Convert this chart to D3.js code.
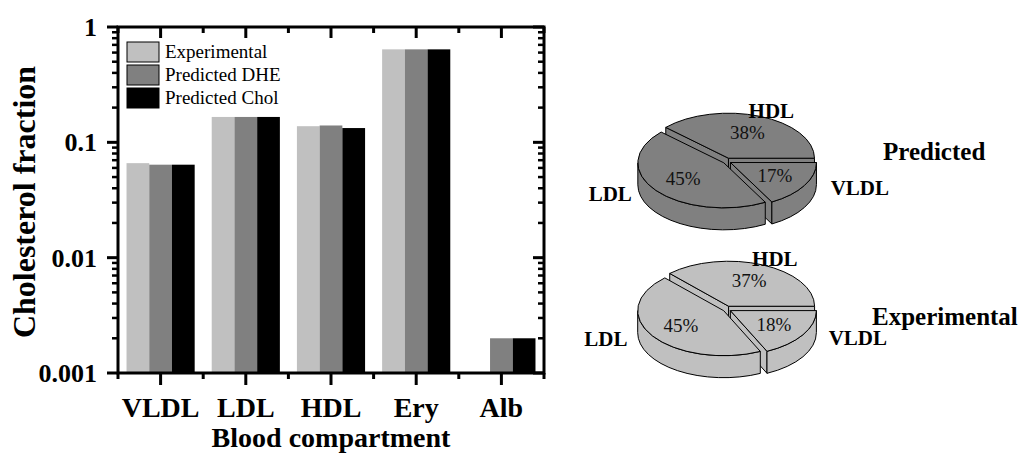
<!DOCTYPE html>
<html>
<head>
<meta charset="utf-8">
<script src="https://cdn.jsdelivr.net/npm/d3@7/dist/d3.min.js"></script>
<style>
  body { margin: 0; background: #fff; }
  text { font-family: "Liberation Serif", "Times New Roman", serif; }
</style>
</head>
<body>
<div id="container"></div>
<script>
let w = 1021;
let h = 460;

// bar chart data
let categories = ["VLDL", "LDL", "HDL", "Ery", "Alb"];
let seriesNames = ["Experimental", "Predicted DHE", "Predicted Chol"];
let experimental = [0.066, 0.166, 0.138, 0.64, null];
let predictedDHE = [0.064, 0.166, 0.14, 0.64, 0.002];
let predictedChol = [0.064, 0.166, 0.133, 0.64, 0.002];
let seriesColors = ["#c0c0c0", "#808080", "#000000"];
let yTicks = [0.001, 0.01, 0.1, 1];

// pie data
let pieLabels = ["VLDL", "LDL", "HDL"];
let piePredicted = [17, 45, 38];
let pieExperimental = [18, 45, 37];

let viz = d3.select("#container")
  .append("svg")
  .attr("width", w)
  .attr("height", h)
  .style("background-color", "#fff");

let plotLeft = 118, plotRight = 544, plotTop = 27, plotBottom = 373;

let xScale = d3.scaleBand()
  .domain(categories)
  .range([plotLeft, plotRight])
  .paddingInner(0.2)
  .paddingOuter(0.1);
let xInner = d3.scaleBand().domain(seriesNames).range([0, xScale.bandwidth()]);
let yScale = d3.scaleLog().domain([0.001, 1]).range([plotBottom, plotTop]);

let allSeries = [experimental, predictedDHE, predictedChol];

// bars
allSeries.forEach((vals, si) => {
  viz.append("g").selectAll("rect")
    .data(vals.map((v, i) => ({ cat: categories[i], v: v })).filter(d => d.v != null))
    .enter()
    .append("rect")
    .attr("x", d => xScale(d.cat) + xInner(seriesNames[si]))
    .attr("width", xInner.bandwidth())
    .attr("y", d => yScale(d.v))
    .attr("height", d => plotBottom - yScale(d.v))
    .attr("fill", seriesColors[si]);
});

// ticks
let step = xScale.step();
let centers = categories.map(c => xScale(c) + xScale.bandwidth() / 2);
let minorX = centers.map(c => c - step / 2).concat([centers[centers.length - 1] + step / 2]);
let ticks = viz.append("g").attr("stroke", "#000").attr("stroke-width", 3);
centers.forEach(x => {
  ticks.append("line").attr("x1", x).attr("x2", x).attr("y1", plotBottom).attr("y2", plotBottom + 12);
  ticks.append("line").attr("x1", x).attr("x2", x).attr("y1", plotTop).attr("y2", plotTop + 11);
});
minorX.forEach(x => {
  ticks.append("line").attr("x1", x).attr("x2", x).attr("y1", plotBottom).attr("y2", plotBottom + 6);
  ticks.append("line").attr("x1", x).attr("x2", x).attr("y1", plotTop).attr("y2", plotTop + 6);
});
let minorY = [];
for (let e = -3; e < 0; e++) {
  for (let m = 2; m <= 9; m++) minorY.push(m * Math.pow(10, e));
}
minorY.forEach(v => {
  let y = yScale(v);
  ticks.append("line").attr("x1", plotLeft - 6).attr("x2", plotLeft).attr("y1", y).attr("y2", y).attr("stroke-width", 2.5);
  ticks.append("line").attr("x1", plotRight - 6).attr("x2", plotRight).attr("y1", y).attr("y2", y).attr("stroke-width", 2.5);
});
yTicks.forEach(v => {
  let y = yScale(v);
  ticks.append("line").attr("x1", plotLeft - 11).attr("x2", plotLeft).attr("y1", y).attr("y2", y);
  ticks.append("line").attr("x1", plotRight - 11).attr("x2", plotRight).attr("y1", y).attr("y2", y);
});

// frame
viz.append("rect")
  .attr("x", plotLeft).attr("y", plotTop)
  .attr("width", plotRight - plotLeft).attr("height", plotBottom - plotTop)
  .attr("fill", "none").attr("stroke", "#000").attr("stroke-width", 3);

// tick labels
viz.append("g").selectAll("text")
  .data(yTicks).enter().append("text")
  .attr("x", plotLeft - 21)
  .attr("y", d => yScale(d) + 9)
  .attr("text-anchor", "end")
  .attr("font-size", 26).attr("font-weight", "bold")
  .text(d => d3.format("")(d));

viz.append("g").selectAll("text")
  .data(categories).enter().append("text")
  .attr("x", d => xScale(d) + xScale.bandwidth() / 2)
  .attr("y", 417)
  .attr("text-anchor", "middle")
  .attr("font-size", 28).attr("font-weight", "bold")
  .text(d => d);

viz.append("text")
  .attr("x", (plotLeft + plotRight) / 2).attr("y", 447)
  .attr("text-anchor", "middle")
  .attr("font-size", 28).attr("font-weight", "bold")
  .text("Blood compartment");

viz.append("text")
  .attr("transform", "translate(35,202) rotate(-90)")
  .attr("text-anchor", "middle")
  .attr("font-size", 32).attr("font-weight", "bold")
  .text("Cholesterol fraction");

// legend
let legend = viz.append("g").attr("transform", "translate(127,42)");
seriesNames.forEach((s, i) => {
  legend.append("rect")
    .attr("x", 0).attr("y", i * 23)
    .attr("width", 32).attr("height", 20)
    .attr("fill", seriesColors[i]).attr("stroke", "#000").attr("stroke-width", 1);
  legend.append("text")
    .attr("x", 38).attr("y", i * 23 + 16)
    .attr("font-size", 19)
    .text(s);
});

// 3D pies
function drawPie3D(values, color, cx, cy, title, titleX, titleY) {
  let rx = 86, ry = 45, depth = 22, explode = 4;
  let pie = d3.pie().sort(null).startAngle(Math.PI / 2).endAngle(Math.PI / 2 + 2 * Math.PI);
  let arcs = pie(values).map((a, i) => {
    let t0 = a.startAngle - Math.PI / 2, t1 = a.endAngle - Math.PI / 2;
    let tm = (t0 + t1) / 2;
    return { label: pieLabels[i], value: values[i], t0: t0, t1: t1, tm: tm,
      ox: cx + explode * Math.cos(tm), oy: cy + explode * 0.75 * Math.sin(tm) };
  });
  let g = viz.append("g");
  arcs.slice().sort((a, b) => Math.sin(a.tm) - Math.sin(b.tm)).forEach(s => {
    let px = t => s.ox + rx * Math.cos(t);
    let py = t => s.oy + ry * Math.sin(t);
    let sg = g.append("g").attr("fill", color).attr("stroke", "#000").attr("stroke-width", 1).attr("stroke-linejoin", "round");
    // radial walls
    let wall = t => "M" + s.ox + "," + s.oy + "L" + px(t) + "," + py(t) +
      "L" + px(t) + "," + (py(t) + depth) + "L" + s.ox + "," + (s.oy + depth) + "Z";
    if (Math.cos(s.t0) < 0) sg.append("path").attr("d", wall(s.t0));
    if (Math.cos(s.t1) > 0) sg.append("path").attr("d", wall(s.t1));
    // outer side, front half only
    [[0, Math.PI], [2 * Math.PI, 3 * Math.PI]].forEach(r => {
      let a = Math.max(s.t0, r[0]), b = Math.min(s.t1, r[1]);
      if (b - a > 0.001) {
        let d = "M" + px(a) + "," + py(a) +
          "A" + rx + "," + ry + " 0 0 1 " + px(b) + "," + py(b) +
          "L" + px(b) + "," + (py(b) + depth) +
          "A" + rx + "," + ry + " 0 0 0 " + px(a) + "," + (py(a) + depth) + "Z";
        sg.append("path").attr("d", d);
      }
    });
    // top face
    let large = (s.t1 - s.t0) > Math.PI ? 1 : 0;
    sg.append("path").attr("d", "M" + s.ox + "," + s.oy + "L" + px(s.t0) + "," + py(s.t0) +
      "A" + rx + "," + ry + " 0 " + large + " 1 " + px(s.t1) + "," + py(s.t1) + "Z");
  });
  // percent labels and slice names
  arcs.forEach(s => {
    g.append("text")
      .attr("x", s.ox + 0.6 * rx * Math.cos(s.tm))
      .attr("y", s.oy + 0.6 * ry * Math.sin(s.tm) + 6)
      .attr("text-anchor", "middle")
      .attr("font-size", 19).attr("fill", "#111")
      .text(s.value + "%");
    let c = Math.cos(s.tm);
    g.append("text")
      .attr("x", cx + 1.4 * rx * c)
      .attr("y", cy + 1.2 * ry * Math.sin(s.tm) + 7)
      .attr("text-anchor", c > 0.5 ? "start" : (c < -0.5 ? "end" : "middle"))
      .attr("font-size", 21).attr("font-weight", "bold")
      .text(s.label);
  });
  viz.append("text")
    .attr("x", titleX).attr("y", titleY)
    .attr("font-size", 25).attr("font-weight", "bold")
    .text(title);
}

drawPie3D(piePredicted, "#808080", 727, 161, "Predicted", 883, 160);
drawPie3D(pieExperimental, "#c0c0c0", 727, 309, "Experimental", 872, 325);
</script>
</body>
</html>
